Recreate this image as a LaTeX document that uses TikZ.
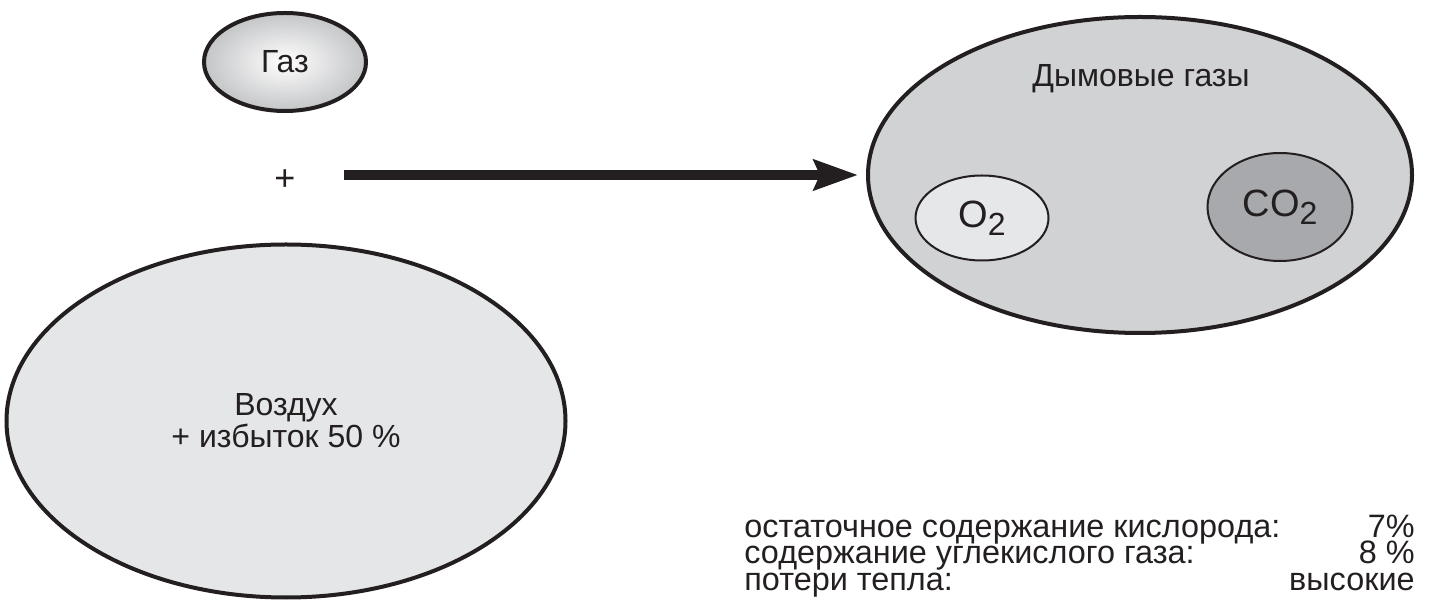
\documentclass[tikz,border=0pt]{standalone}
\usepackage{fontspec}
\setmainfont{Liberation Sans}
\usetikzlibrary{shapes.geometric, positioning, arrows.meta}
\definecolor{ink}{HTML}{231F20}
\definecolor{airfill}{HTML}{E5E6E8}
\definecolor{fluefill}{HTML}{D1D2D4}
\definecolor{lightfill}{HTML}{E6E7E9}
\definecolor{darkfill}{HTML}{A7A9AC}
\definecolor{gasrim}{HTML}{C4C5C7}
\newcommand{\chemsub}[1]{\raisebox{-4pt}{\fontsize{16}{16}\selectfont #1}}
\tikzset{
blob/.style={shape=ellipse, draw=ink, line width=2pt, inner sep=0, text=ink, align=center, font=\fontsize{16}{15}\selectfont},
small/.style={blob, line width=1pt, font=\fontsize{19}{19}\selectfont},
label/.style={text=ink, inner sep=0, font=\fontsize{16}{15}\selectfont},
flow/.style={draw=ink, line width=5pt, -{Stealth[length=22pt, width=15pt, inset=3pt]}, shorten >=4pt},
notes/.style={text=ink, inner sep=0, font=\fontsize{16.2}{13}\selectfont}}
\begin{document}
\begin{tikzpicture}[x=0.5pt, y=-0.5pt]
\useasboundingbox (0,0) rectangle (1429,603);
% left side: gas + air
\node [blob, minimum width=81pt, minimum height=49pt, inner color=white, outer color=gasrim] at (285, 62) (gas) {Газ};
\node [label, font=\fontsize{18}{18}\selectfont] at (285, 180) (plus) {+};
\node [blob, fill=airfill, minimum width=279.5pt, minimum height=176.5pt] at (286, 421) (air) {Воздух\\+ избыток 50 \%};

% right side: flue gases
\node [blob, fill=fluefill, minimum width=272pt, minimum height=158pt] at (1140, 175) (flue) {};
\node [label] at (1141, 79) (flue-label) {Дымовые газы};
\node [small, fill=lightfill, minimum width=66.5pt, minimum height=42.5pt] at (982, 218) (o2) {O\chemsub{2}};
\node [small, fill=darkfill, minimum width=72.5pt, minimum height=54pt] at (1280, 207) (co2) {CO\chemsub{2}};

\coordinate (start) at (344, 175);
\draw [flow] (start) -- (flue.west);

% summary rows
\foreach \key/\val [count=\k, evaluate={\ybase=538+26*(\k-1);}] in {остаточное содержание кислорода:/7\%, содержание углекислого газа:/8 \%, потери тепла:/высокие}{
      \node [notes, anchor=base west] at (744, \ybase) (key-\k) {\key};
      \node [notes, anchor=base east] at (1415, \ybase) (val-\k) {\val};
}
\end{tikzpicture}
\end{document}
